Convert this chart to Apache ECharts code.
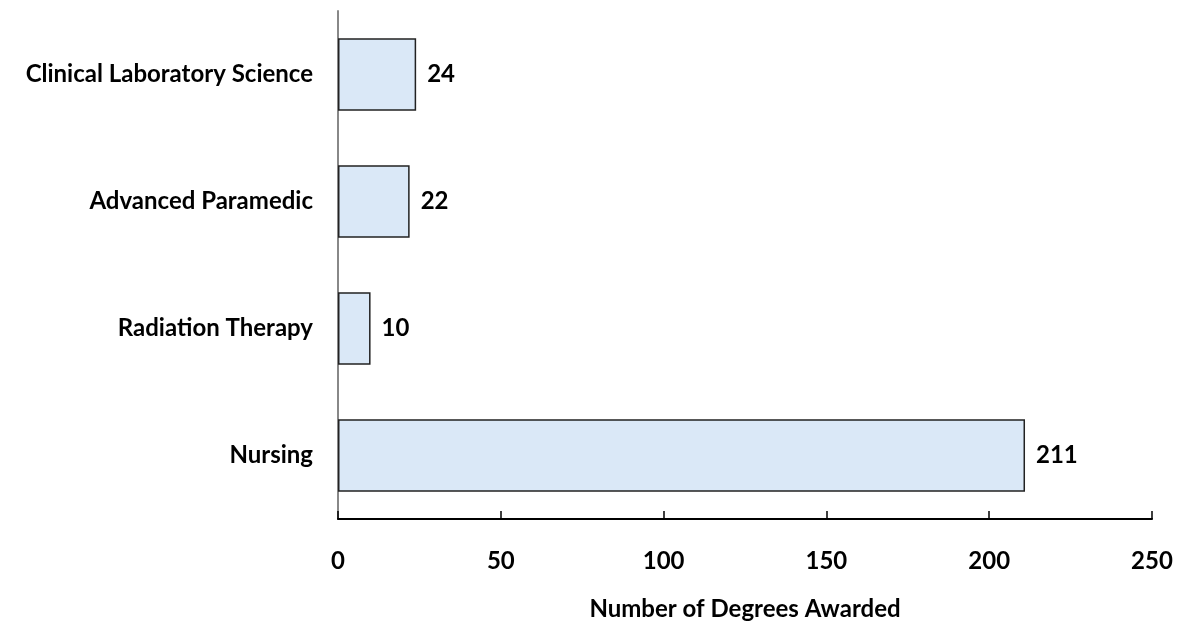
<!DOCTYPE html>
<html><head><meta charset="utf-8">
<script src="https://cdn.jsdelivr.net/npm/echarts@6/dist/echarts.min.js"></script>
<style>html,body{margin:0;padding:0;background:#fff}#c{width:1179px;height:626px}</style>
</head><body><div id="c"></div>
<script>
const categories = ['Nursing', 'Radiation Therapy', 'Advanced Paramedic', 'Clinical Laboratory Science'];
const values = [211, 10, 22, 24];
const xTicks = [0, 50, 100, 150, 200, 250];
const axisTitle = 'Number of Degrees Awarded';

const FONT = 'Lato';
const FS = 24;
const chart = echarts.init(document.getElementById('c'));
chart.setOption({
  animation: false,
  grid: { left: 338, right: 27, top: 11, bottom: 103, containLabel: false },
  xAxis: {
    type: 'value', min: xTicks[0], max: xTicks[xTicks.length - 1], interval: 50,
    axisLine: { show: true, lineStyle: { color: '#000', width: 2 } },
    axisTick: { show: true, inside: true, length: 8, lineStyle: { color: '#000', width: 1.5 } },
    splitLine: { show: false },
    axisLabel: { margin: 30, color: '#000', fontWeight: 'bold', fontSize: FS, fontFamily: FONT },
    name: axisTitle, nameLocation: 'middle', nameGap: 78,
    nameTextStyle: { color: '#000', fontWeight: 'bold', fontSize: FS, fontFamily: FONT }
  },
  yAxis: {
    type: 'category', data: categories,
    axisLine: { show: true, lineStyle: { color: '#888', width: 2 } },
    axisTick: { show: false },
    axisLabel: { margin: 25, color: '#000', fontWeight: 'bold', fontSize: FS, fontFamily: FONT }
  },
  series: [{
    type: 'bar', data: values, barCategoryGap: '43%',
    itemStyle: { color: '#dae8f7', borderColor: '#222', borderWidth: 1.5 },
    label: { show: true, position: 'right', distance: 11, color: '#000', fontWeight: 'bold', fontSize: FS, fontFamily: FONT }
  }]
});
</script></body></html>
